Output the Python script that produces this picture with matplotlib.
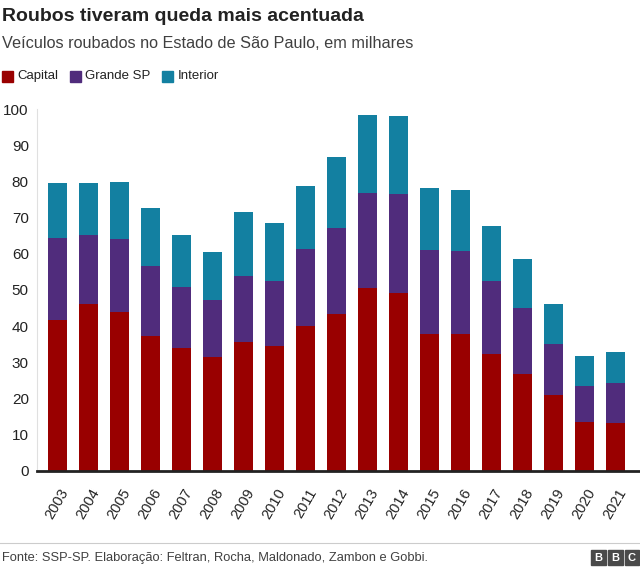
import matplotlib.pyplot as plt
import matplotlib.transforms as mtransforms
import numpy as np
from matplotlib.patches import Rectangle

plt.rcParams['font.family'] = ['Liberation Sans', 'DejaVu Sans']

years = ['2003', '2004', '2005', '2006', '2007', '2008', '2009', '2010', '2011', '2012',
         '2013', '2014', '2015', '2016', '2017', '2018', '2019', '2020', '2021']
capital = [41.7, 46.0, 43.9, 37.3, 34.0, 31.4, 35.5, 34.6, 40.1, 43.4,
           50.5, 49.1, 37.9, 37.7, 32.2, 26.6, 20.8, 13.5, 13.2]
grande_sp = [22.6, 19.3, 20.1, 19.4, 16.9, 15.9, 18.5, 18.0, 21.3, 23.9,
             26.5, 27.6, 23.3, 23.2, 20.4, 18.5, 14.3, 10.0, 11.1]
interior = [15.3, 14.3, 15.8, 15.9, 14.2, 13.3, 17.7, 15.9, 17.5, 19.6,
            21.4, 21.4, 17.1, 16.9, 15.2, 13.6, 11.1, 8.3, 8.6]

c_red = '#990000'
c_purple = '#502c7c'
c_blue = '#1380a1'

fig = plt.figure(figsize=(6.4, 5.74), dpi=100)
ax = fig.add_axes([0.058, 0.1803, 0.942, 0.629])

x = np.arange(len(years))
cap = np.array(capital)
gsp = np.array(grande_sp)
w = 0.63
ax.bar(x, cap, width=w, color=c_red, label='Capital')
ax.bar(x, gsp, width=w, bottom=cap, color=c_purple, label='Grande SP')
ax.bar(x, interior, width=w, bottom=cap + gsp, color=c_blue, label='Interior')

ax.set_xlim(-0.66, 18.79)
ax.set_ylim(0, 100)
ax.set_yticks(np.arange(0, 101, 10))
ax.set_xticks(x)
ax.set_xticklabels(years, rotation=60, ha='right', rotation_mode='anchor', va='center')
ax.tick_params(axis='y', length=0, pad=6, labelsize=11, labelcolor='#222222')
ax.tick_params(axis='x', length=0, pad=13.5, labelsize=10.5, labelcolor='#222222')
shift = mtransforms.ScaledTranslation(0.08, 0, fig.dpi_scale_trans)
for lab in ax.get_xticklabels():
    lab.set_transform(lab.get_transform() + shift)

for s in ['top', 'right']:
    ax.spines[s].set_visible(False)
ax.spines['left'].set_color('#e0e0e0')
ax.spines['left'].set_linewidth(0.8)
ax.spines['bottom'].set_color('#222222')
ax.spines['bottom'].set_linewidth(2)

fig.text(0.003, 0.971, 'Roubos tiveram queda mais acentuada', fontsize=14,
         fontweight='bold', color='#222222', va='center', ha='left')
fig.text(0.003, 0.925, 'Veículos roubados no Estado de São Paulo, em milhares',
         fontsize=11.7, color='#404040', va='center', ha='left')

# legend
leg_items = [('Capital', c_red, 0.003), ('Grande SP', c_purple, 0.109), ('Interior', c_blue, 0.253)]
for name, col, lx in leg_items:
    fig.patches.append(Rectangle((lx, 0.858), 0.017, 0.019, transform=fig.transFigure,
                                 color=col))
    fig.text(lx + 0.024, 0.867, name, fontsize=9.5, color='#222222', va='center', ha='left')

# footer
fig.add_artist(plt.Line2D([0, 1], [0.054, 0.054], transform=fig.transFigure,
                          color='#cccccc', lw=0.8))
fig.text(0.003, 0.028, 'Fonte: SSP-SP. Elaboração: Feltran, Rocha, Maldonado, Zambon e Gobbi.',
         fontsize=9.3, color='#404040', va='center', ha='left')
for i, ch in enumerate('BBC'):
    bx = 0.924 + i * 0.026
    fig.patches.append(Rectangle((bx, 0.015), 0.023, 0.026, transform=fig.transFigure,
                                 color='#4a4a4a'))
    fig.text(bx + 0.0115, 0.028, ch, fontsize=8, fontweight='bold', color='white',
             va='center', ha='center')

fig.savefig('out.png', dpi=100)
